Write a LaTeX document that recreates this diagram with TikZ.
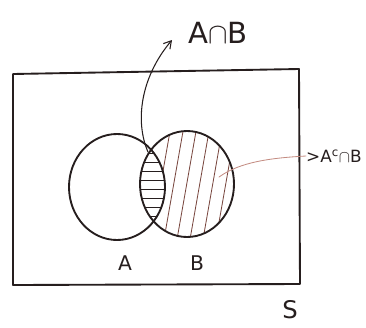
\documentclass[tikz,border=0pt]{standalone}
\usepackage{fontspec}
\setmainfont{DejaVu Sans}
\usetikzlibrary{arrows.meta}
\definecolor{vnink}{RGB}{38,30,30}
\definecolor{vnhatch}{RGB}{120,70,62}
\definecolor{vnpoint}{RGB}{196,140,130}
\tikzset{
  pen/.style={draw=vnink, line width=1.6pt, line join=round},
  hatch/.style={draw=vnhatch, line width=0.7pt},
  lensline/.style={draw=vnink, line width=0.8pt},
  arr/.style={-{Straight Barb[length=2.2mm,width=2.6mm]}, draw=vnink, line width=0.9pt},
  parr/.style={draw=vnpoint, line width=0.7pt},
  lbl/.style={text=vnink, inner sep=0pt},
  every picture/.append style={line cap=round}
}

\begin{document}
\begin{tikzpicture}[x=0.03cm,y=-0.03cm]
  \fill[white] (0,0) rectangle (366,327);
  \useasboundingbox (0,0) rectangle (366,327);
  \def\setA{(117,187) ellipse [x radius=48, y radius=53]}
  \def\setB{(187,184) ellipse [x radius=47, y radius=53]}
  \begin{scope}
    \clip \setB;
    \foreach \x in {150,163,...,246}
      \draw[hatch] (\x+22,120) -- (\x,245);
    \fill[white] \setA;
  \end{scope}
  \begin{scope}
    \clip \setA;
    \clip \setB;
    \foreach \y in {153,162,...,230}
      \draw[lensline] (130,\y) -- (175,\y);
  \end{scope}
  \draw[pen] \setA;
  \draw[pen] \setB;
  \draw[pen] (13,74) -- (299,69) -- (300,284) -- (13,285) -- cycle;
  \node[lbl, font=\LARGE] (labA) at (125,263) {A};
  \node[lbl, font=\LARGE] (labB) at (197,263) {B};
  \node[lbl, font=\huge] (labS) at (290,310) {S};
  \node[lbl, font=\Huge, anchor=west] (capAB) at (188,33) {A$\cap$B};
  \node[lbl, font=\Large, anchor=west] (capAcB) at (306,156) {>A\textsuperscript{c}$\cap$B};
  \coordinate (lens) at (148,152);
  \coordinate (regB) at (219,177);
  \coordinate (tipA) at (172,40);
  \draw[arr] (lens) .. controls (135,122) and (140,78) .. (tipA);
  \draw[parr] (regB) .. controls (240,162) and (270,158) .. (capAcB.west);
\end{tikzpicture}
\end{document}
